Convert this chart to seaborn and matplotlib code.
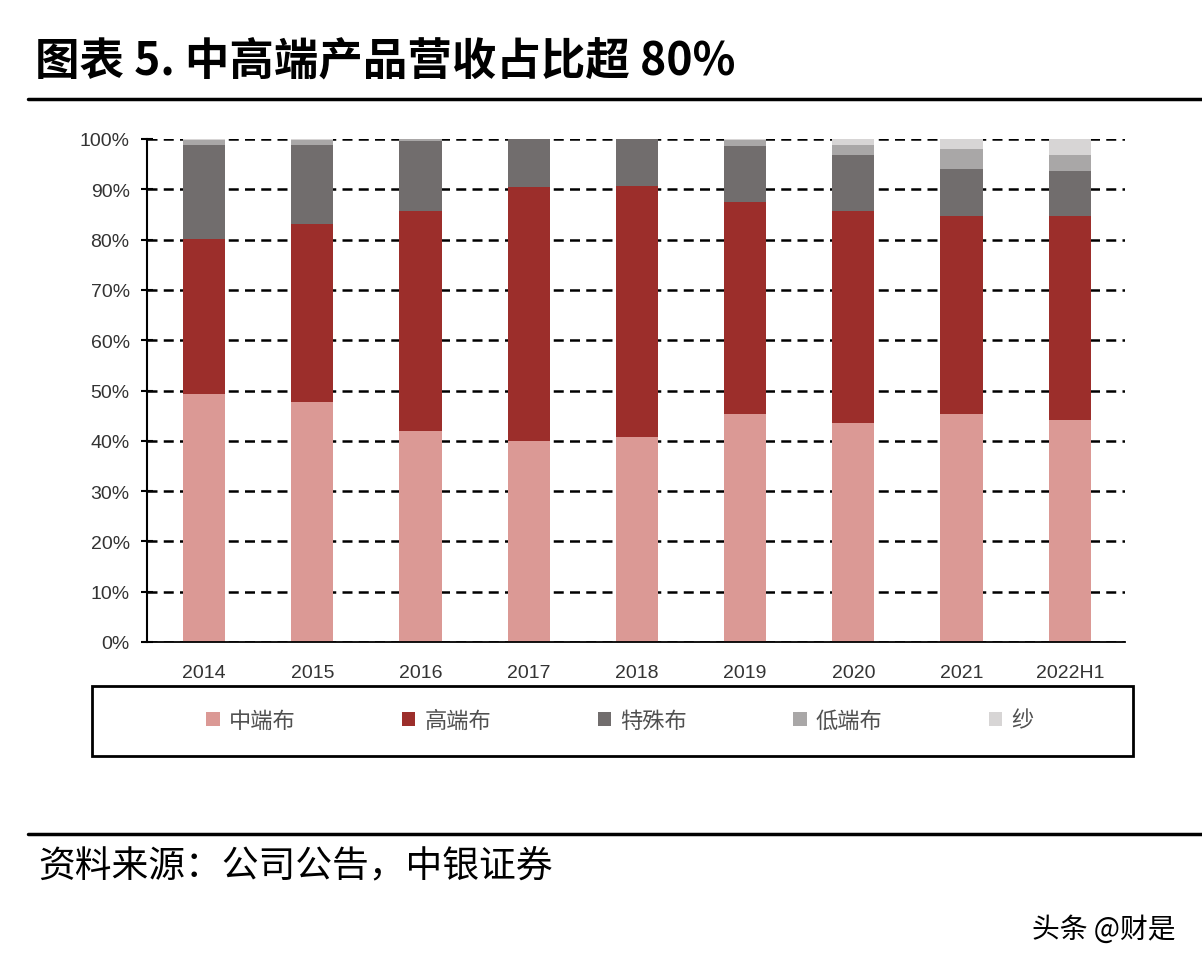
import matplotlib
matplotlib.use("Agg")
import matplotlib.pyplot as plt
import seaborn as sns
import numpy as np
from matplotlib.patches import Patch, Rectangle
from matplotlib.lines import Line2D

# ---- data ----
categories = ["2014", "2015", "2016", "2017", "2018", "2019", "2020", "2021", "2022H1"]
series_names = ["中端布", "高端布", "特殊布", "低端布", "纱"]
mid_end = [49.3, 47.7, 41.9, 40.0, 40.8, 45.3, 43.5, 45.3, 44.1]
high_end = [30.8, 35.4, 43.8, 50.5, 49.9, 42.2, 42.2, 39.4, 40.6]
special = [18.7, 15.7, 13.9, 9.5, 9.3, 11.1, 11.1, 9.3, 8.9]
low_end = [1.0, 1.0, 0.4, 0.0, 0.0, 1.2, 2.0, 4.0, 3.2]
yarn = [0.2, 0.2, 0.0, 0.0, 0.0, 0.2, 1.2, 2.0, 3.2]
y_ticks = [0, 10, 20, 30, 40, 50, 60, 70, 80, 90, 100]
y_tick_labels = ["0%", "10%", "20%", "30%", "40%", "50%", "60%", "70%", "80%", "90%", "100%"]

colors = ["#DB9995", "#9C2E2B", "#716D6D", "#A9A7A7", "#D7D5D5"]

sns.set_style("white")
plt.rcParams['font.family'] = ['Noto Sans CJK SC', 'DejaVu Sans']

fig = plt.figure(figsize=(12.02, 9.70), dpi=100)
W, H = 1202, 970
ax = fig.add_axes([147 / W, 1 - 643 / H, (1125 - 147) / W, (643 - 140) / H])

stack = np.array([mid_end, high_end, special, low_end, yarn])
cum = np.cumsum(stack, axis=0)
for i in range(len(series_names) - 1, -1, -1):
    sns.barplot(x=categories, y=cum[i], order=categories, color=colors[i],
                saturation=1, width=0.39, edgecolor="none", linewidth=0, ax=ax)

ax.set_xlim(-0.527, 8.51)
ax.set_ylim(0, 100)
ax.set_yticks(y_ticks)
ax.set_yticklabels(y_tick_labels, fontsize=14, color="#333333",
                   family=['Liberation Sans', 'DejaVu Sans'])
ax.set_xticks(range(len(categories)))
ax.set_xticklabels(categories, fontsize=14, color="#333333",
                   family=['Liberation Sans', 'DejaVu Sans'])
ax.set_xlabel("")
ax.set_ylabel("")
ax.set_axisbelow(True)
ax.yaxis.grid(True, color="black", linestyle=(0, (4, 2.5)), linewidth=1.8)
ax.xaxis.grid(False)
for s in ["top", "right"]:
    ax.spines[s].set_visible(False)
ax.spines["left"].set_color("black")
ax.spines["left"].set_linewidth(1.5)
ax.spines["bottom"].set_color("black")
ax.spines["bottom"].set_linewidth(1.3)
ax.tick_params(axis="y", direction="inout", length=9, width=1.5, color="black", pad=8, left=True)
ax.tick_params(axis="x", length=0, pad=16)

# title & rules
fig.text(35 / W, 1 - 62 / H, "图表 5. 中高端产品营收占比超 80%", fontsize=32,
         fontweight="bold", color="black", va="center", ha="left")
fig.add_artist(Line2D([28 / W, 1.0], [1 - 100 / H, 1 - 100 / H], color="black", lw=2.5))
fig.add_artist(Line2D([28 / W, 1.0], [1 - 835 / H, 1 - 835 / H], color="black", lw=2.5))

# legend box
fig.add_artist(Rectangle((92 / W, 1 - 757 / H), (1133 - 92) / W, (757 - 687) / H,
                         transform=fig.transFigure, fill=False, edgecolor="black", lw=2))
handles = [Patch(facecolor=c, edgecolor="none") for c in colors]
fig.legend(handles, series_names, loc="center", bbox_to_anchor=(620 / W, 1 - 721 / H),
           ncol=5, frameon=False, fontsize=16, handlelength=0.6, handleheight=0.6,
           handletextpad=0.4, columnspacing=4.8, labelcolor="#505050")

fig.text(38 / W, 1 - 866 / H, "资料来源：公司公告，中银证券", fontsize=26.5, style="italic",
         color="black", va="center", ha="left")
fig.text(1175 / W, 1 - 930 / H, "头条 @财是", fontsize=20, color="black", va="center", ha="right")

fig.savefig("out.png", dpi=100, facecolor="white")
